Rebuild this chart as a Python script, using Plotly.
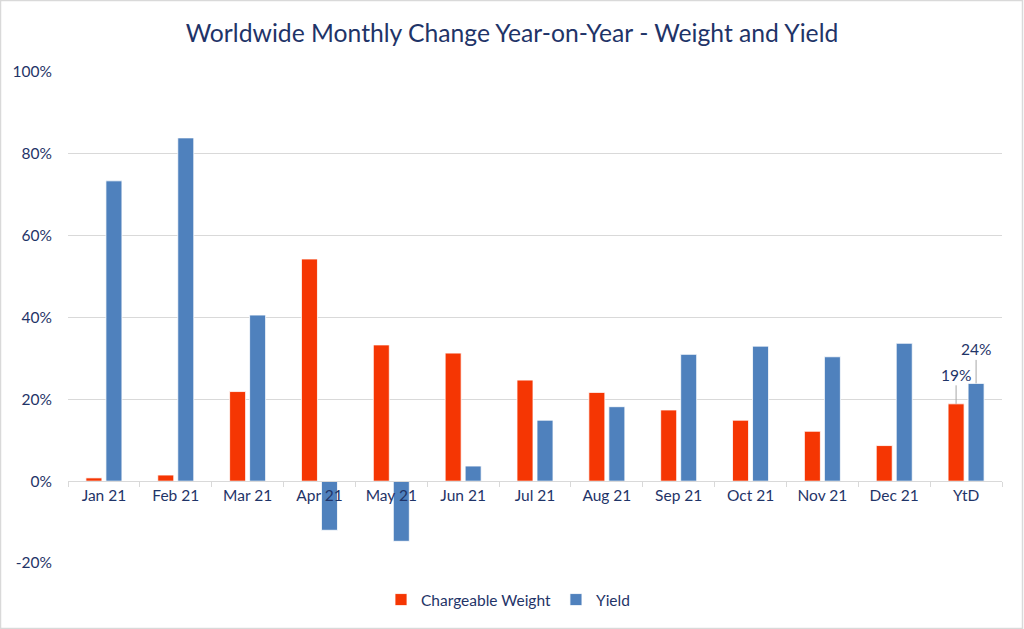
import plotly.graph_objects as go

categories = ["Jan 21", "Feb 21", "Mar 21", "Apr 21", "May 21", "Jun 21",
              "Jul 21", "Aug 21", "Sep 21", "Oct 21", "Nov 21", "Dec 21", "YtD"]
chargeable_weight = [0.8, 1.5, 21.9, 54.3, 33.3, 31.3, 24.7, 21.7, 17.4, 14.9, 12.2, 8.7, 18.9]
yield_values = [73.4, 83.9, 40.6, -12.0, -14.7, 3.7, 14.9, 18.2, 31.0, 33.0, 30.4, 33.7, 23.9]
y_ticks = [-20, 0, 20, 40, 60, 80, 100]
y_tick_labels = ["-20%", "0%", "20%", "40%", "60%", "80%", "100%"]

TEXT = "#1F3468"
RED = "#F53603"
BLUE = "#4F81BD"
FONT = "Lato"
FS = 15.5

fig = go.Figure()
fig.add_trace(go.Bar(name="Chargeable Weight", x=categories, y=chargeable_weight,
                     marker=dict(color=RED, line=dict(color="white", width=0.8))))
fig.add_trace(go.Bar(name="Yield", x=categories, y=yield_values,
                     marker=dict(color=BLUE, line=dict(color="white", width=0.8))))

fig.add_annotation(x="YtD", y=chargeable_weight[-1], xshift=-10, text="19%",
                   showarrow=True, arrowhead=0, arrowwidth=1, arrowcolor="#A6A6A6",
                   ax=0, ay=-29, font=dict(size=FS, color=TEXT, family=FONT))
fig.add_annotation(x="YtD", y=yield_values[-1], xshift=10, text="24%",
                   showarrow=True, arrowhead=0, arrowwidth=1, arrowcolor="#A6A6A6",
                   ax=0, ay=-34, font=dict(size=FS, color=TEXT, family=FONT))

fig.update_layout(
    width=1024, height=629,
    paper_bgcolor="white", plot_bgcolor="white",
    barmode="group", bargap=0.443, bargroupgap=0.2,
    font=dict(family=FONT, color=TEXT, size=FS),
    title=dict(text="Worldwide Monthly Change Year-on-Year - Weight and Yield",
               x=0.5, xanchor="center", y=1 - 33 / 629, yanchor="middle",
               font=dict(size=24.7, color=TEXT, family=FONT)),
    margin=dict(l=68, r=22, t=72, b=66, autoexpand=False),
    showlegend=True,
    legend=dict(orientation="h", x=(508 - 68) / 934, xanchor="center", y=-37 / 491,
                yanchor="middle", font=dict(size=FS, color=TEXT, family=FONT),
                traceorder="normal"),
    xaxis=dict(anchor="free", position=1/6, showline=True, linecolor="#D9D9D9", linewidth=1,
               ticks="outside", tickson="boundaries", ticklen=5, tickcolor="#D9D9D9",
               showgrid=False, tickfont=dict(size=FS, color=TEXT, family=FONT)),
    yaxis=dict(range=[-20, 100], tickvals=y_ticks, ticktext=y_tick_labels,
               showgrid=True, gridcolor="#D9D9D9", gridwidth=1, zeroline=False,
               showline=False, ticks="", ticklabelstandoff=15,
               tickfont=dict(size=FS, color=TEXT, family=FONT)),
    shapes=[dict(type="rect", xref="paper", yref="paper", x0=-67.5/934, x1=1+20.5/934,
                 y0=-65.5/491, y1=1+71.5/491, line=dict(color="#D9D9D9", width=1.5))],
)

fig.write_html("out.html", config={"displayModeBar": False},
               post_script="document.body.style.margin='0px';")
